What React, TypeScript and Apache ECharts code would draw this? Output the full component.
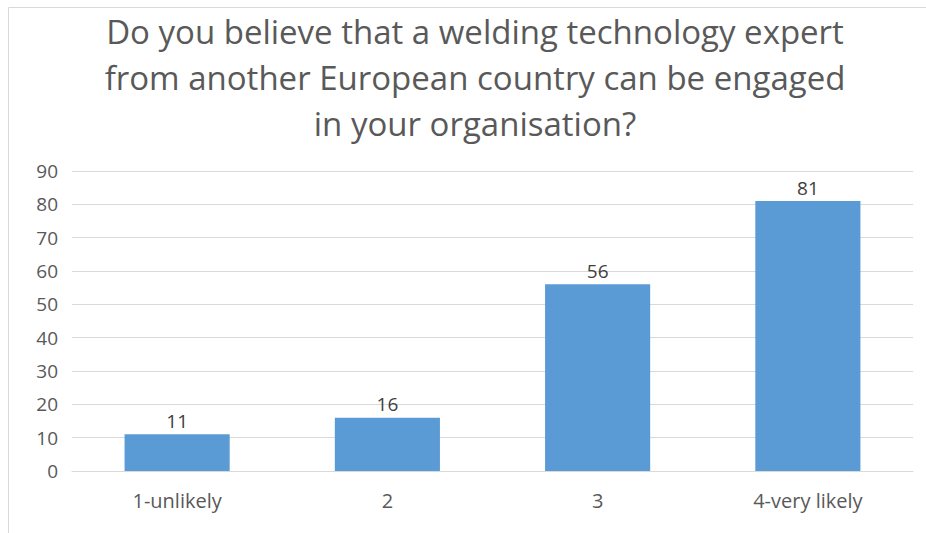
import React, { useEffect, useRef } from "react";
import * as echarts from "echarts";

const categories = ["1-unlikely", "2", "3", "4-very likely"];
const values = [11, 16, 56, 81];
const titleLines = [
  "Do you believe that a welding technology expert",
  "from another European country can be engaged",
  "in your organisation?",
];

const FONT = "Open Sans";

export default function App() {
  const ref = useRef<HTMLDivElement>(null);
  useEffect(() => {
    if (!ref.current) return;
    const chart = echarts.init(ref.current, undefined, { renderer: "svg" });
    chart.setOption({
      animation: false,
      backgroundColor: "#ffffff",
      textStyle: { fontFamily: FONT },
      graphic: [
        {
          type: "rect",
          shape: { x: 8.5, y: 7.5, width: 1000, height: 600 },
          style: { fill: "none", stroke: "#d9d9d9", lineWidth: 1 },
          silent: true,
        },
        ...titleLines.map((t, i) => ({
          type: "text",
          x: 475,
          y: 31 + i * 46,
          style: {
            text: t,
            fontSize: 33,
            fontFamily: FONT,
            fill: "#595959",
            textAlign: "center",
            textVerticalAlign: "middle",
          },
        })),
      ],
      grid: { left: 72, right: 13, top: 171, bottom: 62, containLabel: false },
      xAxis: {
        type: "category",
        data: categories,
        axisLine: { show: true, lineStyle: { color: "#d9d9d9", width: 1 } },
        axisTick: { show: false },
        axisLabel: { color: "#595959", fontSize: 20, margin: 19, fontFamily: FONT },
      },
      yAxis: {
        type: "value",
        min: 0,
        max: 90,
        interval: 10,
        axisLine: { show: false },
        axisTick: { show: false },
        splitLine: { lineStyle: { color: "#d9d9d9", width: 1 } },
        axisLabel: { color: "#595959", fontSize: 19, margin: 14, fontFamily: FONT },
      },
      series: [
        {
          type: "bar",
          data: values,
          barWidth: "50%",
          itemStyle: { color: "#5b9bd5" },
          label: {
            show: true,
            position: "top",
            distance: 4,
            color: "#404040",
            fontSize: 19,
            fontFamily: FONT,
          },
        },
      ],
    });
    return () => chart.dispose();
  }, []);
  return (
    <div
      ref={ref}
      style={{ position: "absolute", left: 0, top: 0, width: 926, height: 533 }}
    />
  );
}
